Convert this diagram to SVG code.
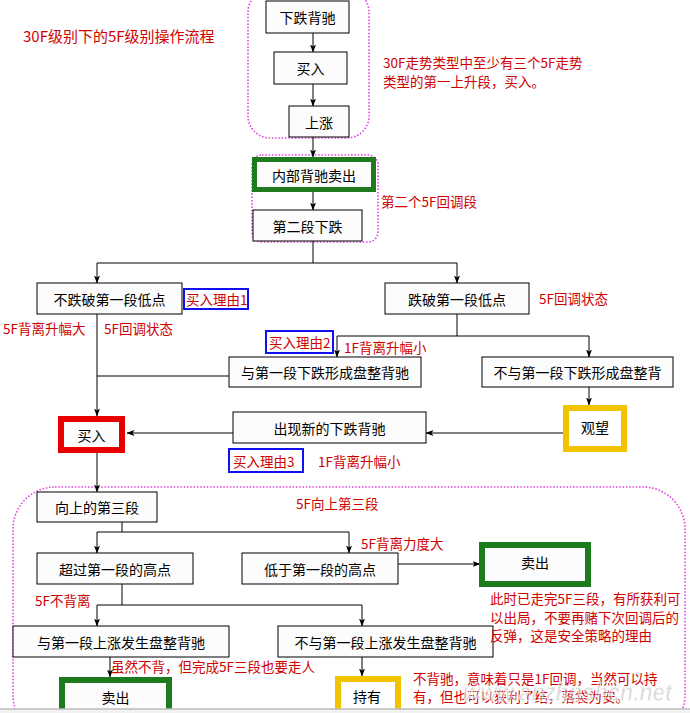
<svg xmlns="http://www.w3.org/2000/svg" width="690" height="713" viewBox="0 0 690 713">
<defs>
<style>
.bx{fill:#fcfcfc;stroke:#000;stroke-width:1}
.t{font-family:"Noto Sans CJK SC","Liberation Sans",sans-serif;font-size:14px;fill:#000;text-anchor:middle;dominant-baseline:central}
.r{font-family:"Noto Sans CJK SC","Liberation Sans",sans-serif;font-size:13.5px;fill:#d00000;dominant-baseline:central}
.dot{fill:none;stroke:#e040e0;stroke-width:1.6;stroke-dasharray:1.5 1.8}
.ln{fill:none;stroke:#000;stroke-width:1}
.ar{fill:none;stroke:#000;stroke-width:1;marker-end:url(#a)}
.blue{fill:#fff;stroke:#1010f0;stroke-width:2}
</style>
<marker id="a" viewBox="0 0 8 8" refX="7.5" refY="4" markerWidth="8" markerHeight="8" markerUnits="userSpaceOnUse" orient="auto">
<path d="M0,1 L8,4 L0,7 L2,4 Z" fill="#000"/>
</marker>
</defs>
<rect width="690" height="713" fill="#fff"/>

<!-- grouping frames -->
<g id="frames">
<rect class="dot" x="248" y="-10" width="121" height="148" rx="22"/>
<rect class="dot" x="252" y="155" width="126" height="87" rx="10"/>
<rect class="dot" x="13" y="487" width="672" height="250" rx="42"/>
</g>

<!-- connectors -->
<g id="connectors">
<path class="ar" d="M313,33 V52"/>
<path class="ar" d="M313,84 V106"/>
<path class="ar" d="M313,137 V157"/>
<path class="ar" d="M313,192 V210"/>
<path class="ln" d="M313,241 V263 M97,263 H457"/>
<path class="ar" d="M97,263 V283"/>
<path class="ar" d="M457,263 V283"/>
<path class="ar" d="M97,314 V416"/>
<path class="ln" d="M229,376 H97"/>
<path class="ln" d="M457,314 V336 M337,336 H589"/>
<path class="ar" d="M337,336 V357"/>
<path class="ar" d="M589,336 V357"/>
<path class="ar" d="M589,387 V405"/>
<path class="ar" d="M563,433 H426"/>
<path class="ar" d="M233,433 H127"/>
<path class="ar" d="M97,453 V492"/>
<path class="ln" d="M122,522 V532 M97,532 H349"/>
<path class="ar" d="M97,532 V553"/>
<path class="ar" d="M349,532 V553"/>
<path class="ar" d="M398,564 H480"/>
<path class="ln" d="M122,584 V605 M97,605 H362"/>
<path class="ar" d="M97,605 V626"/>
<path class="ar" d="M362,605 V626"/>
<path class="ar" d="M110,657 V677"/>
<path class="ar" d="M362,657 V676"/>
</g>

<!-- nodes -->
<g id="n-xdbc"><rect class="bx" x="266" y="1" width="83" height="32"/><text class="t" x="307.5" y="17">下跌背驰</text></g>
<g id="n-mr1"><rect class="bx" x="274" y="52" width="73" height="32"/><text class="t" x="310.5" y="68">买入</text></g>
<g id="n-sz"><rect class="bx" x="289" y="106" width="60" height="31"/><text class="t" x="319" y="121.5">上涨</text></g>
<g id="n-nbbc"><rect x="254.5" y="159.5" width="119" height="30" fill="#fcfcfc" stroke="#1d7a1d" stroke-width="5"/><text class="t" x="314" y="175">内部背驰卖出</text></g>
<g id="n-dedxd"><rect class="bx" x="253" y="210" width="109" height="31"/><text class="t" x="307.5" y="225.5">第二段下跌</text></g>
<g id="n-bdp"><rect class="bx" x="37" y="283" width="145" height="31"/><text class="t" x="109.5" y="298.5">不跌破第一段低点</text></g>
<g id="n-dp"><rect class="bx" x="385" y="283" width="144" height="31"/><text class="t" x="457" y="298.5">跌破第一段低点</text></g>
<g id="n-xdpz"><rect class="bx" x="229" y="357" width="192" height="30"/><text class="t" x="325" y="372">与第一段下跌形成盘整背驰</text></g>
<g id="n-bxdpz"><rect class="bx" x="482" y="357" width="191" height="30"/><text class="t" x="577.5" y="372">不与第一段下跌形成盘整背</text></g>
<g id="n-mr2"><rect x="61" y="419" width="61" height="31" fill="#fcfcfc" stroke="#e80000" stroke-width="6"/><text class="t" x="91.5" y="435">买入</text></g>
<g id="n-cxbc"><rect class="bx" x="233" y="412" width="193" height="31"/><text class="t" x="329.5" y="427.5">出现新的下跌背驰</text></g>
<g id="n-gw"><rect x="566" y="408" width="58" height="41" fill="#fff" stroke="#f2c400" stroke-width="6"/><text class="t" x="595" y="427">观望</text></g>
<g id="n-sds"><rect class="bx" x="37" y="492" width="120" height="30"/><text class="t" x="97" y="507">向上的第三段</text></g>
<g id="n-cg"><rect class="bx" x="37" y="553" width="156" height="31"/><text class="t" x="115" y="568.5">超过第一段的高点</text></g>
<g id="n-dy"><rect class="bx" x="242" y="553" width="156" height="31"/><text class="t" x="320" y="568.5">低于第一段的高点</text></g>
<g id="n-mc1"><rect x="482" y="545" width="106" height="39" fill="#fcfcfc" stroke="#1d7a1d" stroke-width="6"/><text class="t" x="535" y="562">卖出</text></g>
<g id="n-szpz"><rect class="bx" x="13" y="626" width="216" height="31"/><text class="t" x="121" y="641.5">与第一段上涨发生盘整背驰</text></g>
<g id="n-bszpz"><rect class="bx" x="278" y="626" width="215" height="31"/><text class="t" x="385.5" y="641.5">不与第一段上涨发生盘整背驰</text></g>
<g id="n-mc2"><rect x="62" y="680" width="107" height="40" fill="#fcfcfc" stroke="#1d7a1d" stroke-width="6"/><text class="t" x="115.5" y="697">卖出</text></g>
<g id="n-cy"><rect x="338" y="679" width="60" height="40" fill="#fff" stroke="#f2c400" stroke-width="6"/><text class="t" x="367" y="696">持有</text></g>

<!-- reason boxes -->
<g id="n-ly1"><rect class="blue" x="184" y="289" width="64" height="20"/><text class="r" x="186" y="299">买入理由1</text></g>
<g id="n-ly2"><rect class="blue" x="266" y="331" width="67" height="22"/><text class="r" x="269" y="342">买入理由2</text></g>
<g id="n-ly3"><rect class="blue" x="229" y="449" width="74" height="23"/><text class="r" x="233" y="460.5">买入理由3</text></g>

<!-- annotations -->
<g id="notes">
<text class="r" x="23" y="35" style="font-size:15px">30F级别下的5F级别操作流程</text>
<text class="r" x="383" y="62">30F走势类型中至少有三个5F走势</text>
<text class="r" x="383" y="81">类型的第一上升段，买入。</text>
<text class="r" x="381" y="201">第二个5F回调段</text>
<text class="r" x="3" y="328">5F背离升幅大</text>
<text class="r" x="104" y="328">5F回调状态</text>
<text class="r" x="539" y="298">5F回调状态</text>
<text class="r" x="344" y="347">1F背离升幅小</text>
<text class="r" x="318" y="461">1F背离升幅小</text>
<text class="r" x="296" y="503">5F向上第三段</text>
<text class="r" x="361" y="543">5F背离力度大</text>
<text class="r" x="35" y="600">5F不背离</text>
<text class="r" x="490" y="598">此时已走完5F三段，有所获利可</text>
<text class="r" x="490" y="617">以出局，不要再赌下次回调后的</text>
<text class="r" x="490" y="635">反弹，这是安全策略的理由</text>
<text class="r" x="111" y="666">虽然不背，但完成5F三段也要走人</text>
<text class="r" x="413" y="678">不背驰，意味着只是1F回调，当然可以持</text>
<text class="r" x="413" y="696">有，但也可以获利了结，落袋为安。</text>
</g>

<g id="watermark">
<text x="463" y="701" textLength="209" lengthAdjust="spacingAndGlyphs" style="font-family:'Liberation Sans',sans-serif;font-size:26px;font-weight:bold;font-style:italic;fill:#999;fill-opacity:0.35;stroke:#fff;stroke-width:0.8">www.anzhnshcn.net</text>
</g>

<g id="bottom-edge">
<rect x="0" y="709" width="690" height="4" fill="#f2f2f2"/>
<line x1="0" y1="709" x2="690" y2="709" stroke="#bdbdbd" stroke-width="1.5"/>
</g>
</svg>
